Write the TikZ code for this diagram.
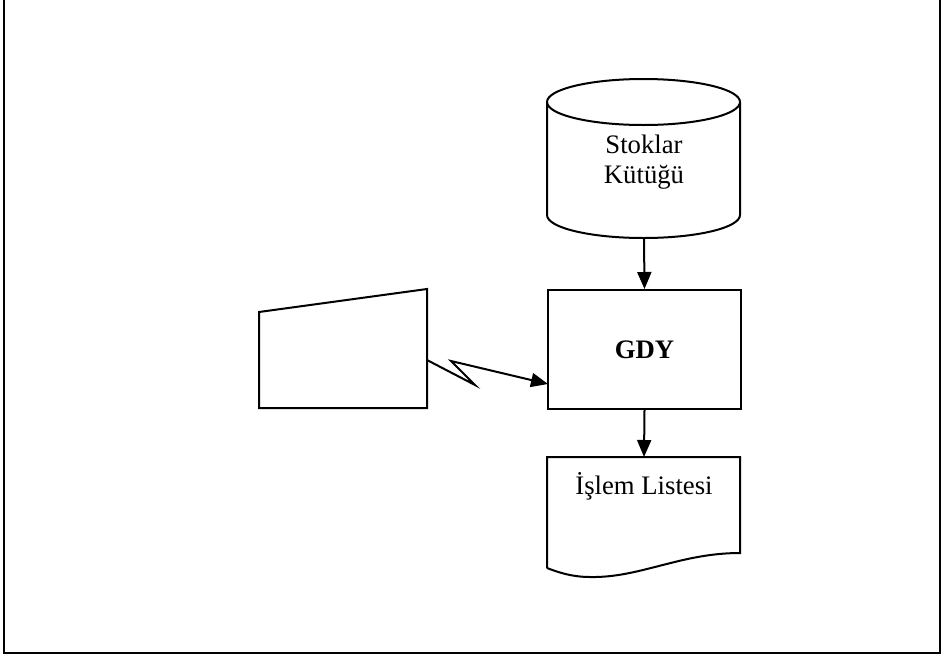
\documentclass[tikz,border=0pt]{standalone}
\usepackage{fontspec}
\setmainfont{Liberation Serif}
\usetikzlibrary{arrows.meta}
\begin{document}
\begin{tikzpicture}[x=1pt,y=-1pt,
  shapeline/.style={draw=black,line width=2pt,line join=miter},
  conn/.style={draw=black,line width=2pt,-{Triangle[length=17pt,width=14pt]}},
  lbl/.style={font=\fontsize{26.7}{30}\selectfont,align=center,inner sep=0pt}]
\useasboundingbox (0,0) rectangle (941,656);
% frame
\draw[line width=2pt] (4,0) -- (4,652.5) -- (940,652.5) -- (940,0);
% cylinder
\coordinate (cylT) at (644,238);
\draw[shapeline,fill=white] (547,102) -- (547,215) arc[start angle=180,end angle=360,x radius=96.5,y radius=-23] -- (740,102);
\draw[shapeline] (643.5,102) ellipse[x radius=96.5,y radius=23];
\node[lbl] (stok) at (644,162) {Stoklar\\Kütüğü};
% GDY box
\node[shapeline,minimum width=193pt,minimum height=119pt,inner sep=0pt,anchor=north west] (gdy) at (547,289) {};
\node[lbl,font=\fontsize{26.7}{30}\selectfont\bfseries] (gdyt) at (gdy.center) {GDY};
% document
\draw[shapeline] (547,568) -- (547,457) -- (740,457) -- (740,553)
  .. controls (680,553) and (640,578) .. (590,577)
  .. controls (570,577) and (555,571) .. (547,568);
\coordinate (docT) at (644,457);
\node[lbl] (isl) at (644,486) {İşlem Listesi};
% manual input
\draw[shapeline] (259,312) -- (427,289) -- (427,408) -- (259,408) -- cycle;
\coordinate (mi) at (427,360);
\coordinate (z1) at (475,385);
\coordinate (z2) at (451,361);
\coordinate (gdyIn) at (548,384);
% connectors
\draw[conn] (cylT) -- (gdy.north);
\draw[conn] (gdy.south) -- (docT);
\draw[conn,line join=miter] (mi) -- (z1) -- (z2) -- (gdyIn);
\end{tikzpicture}
\end{document}
